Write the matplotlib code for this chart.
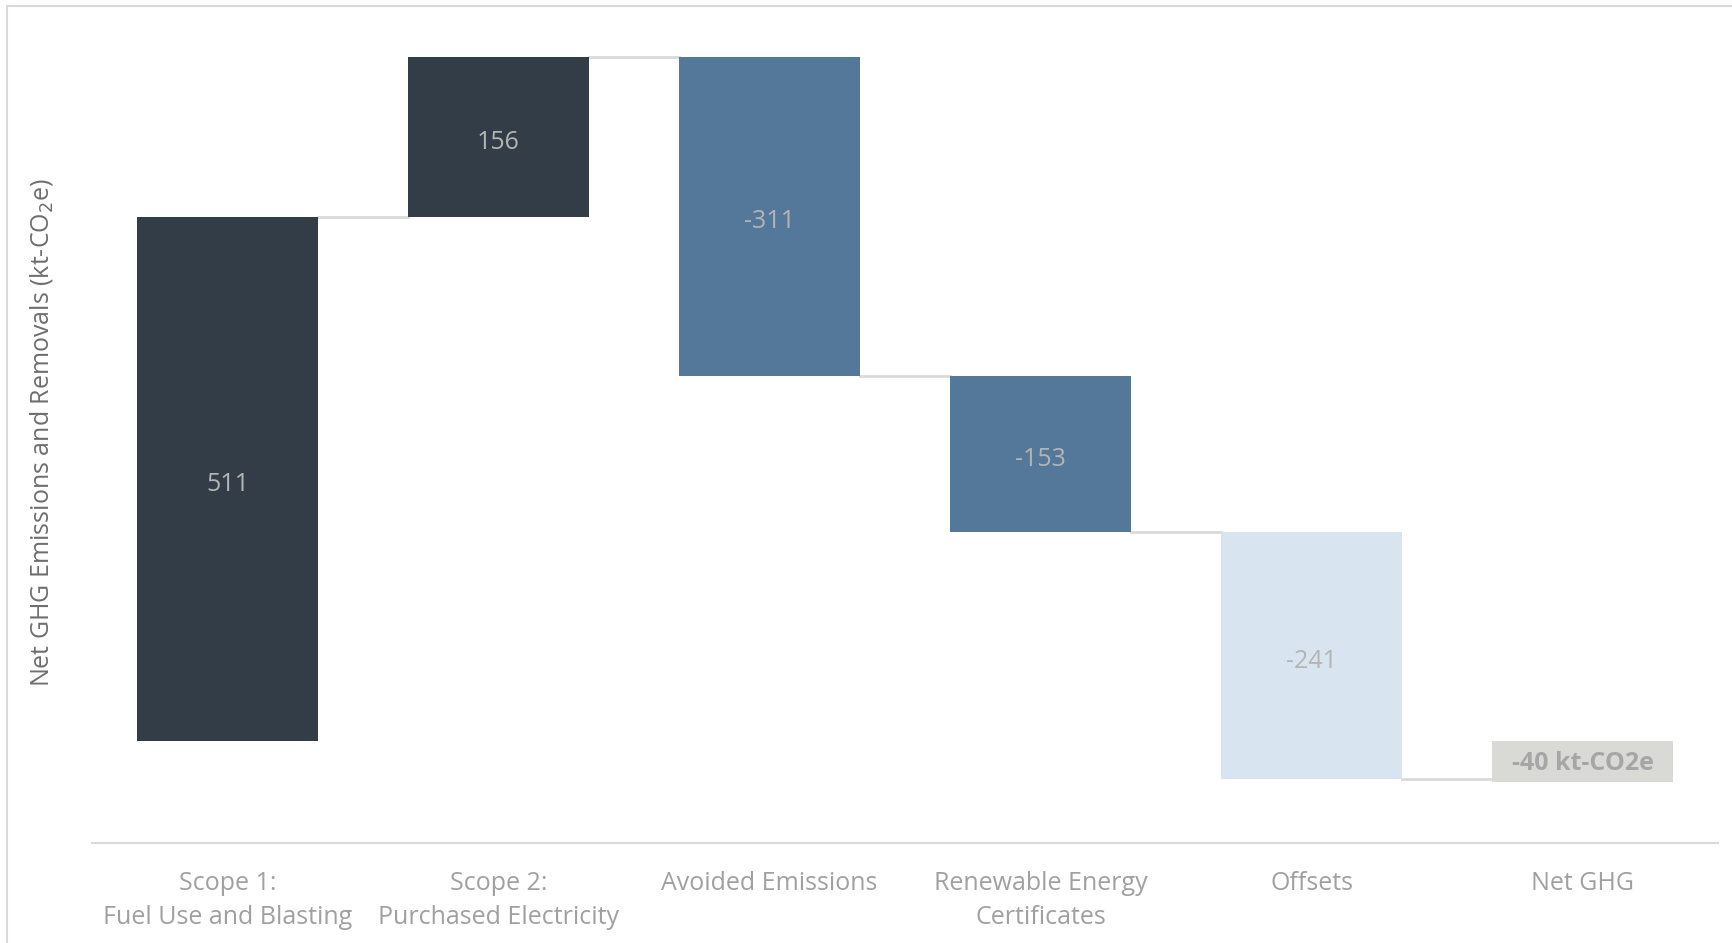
import numpy as np
import matplotlib.pyplot as plt
from matplotlib.patches import Rectangle

plt.rcParams['font.family'] = ['Open Sans', 'DejaVu Sans']

categories = ["Scope 1:\nFuel Use and Blasting", "Scope 2:\nPurchased Electricity",
              "Avoided Emissions", "Renewable Energy\nCertificates", "Offsets", "Net GHG"]
changes = [511, 156, -311, -153, -241]
net_value = -40
bar_colors = ["#333d48", "#333d48", "#54789a", "#54789a", "#d8e4ef"]

fig = plt.figure(figsize=(17.32, 9.43), dpi=100)
# thin frame on the left and top edges
fig.patches.append(Rectangle((7/1732, -0.5), 2, 1.5 - 6/943, transform=fig.transFigure,
                             fill=False, edgecolor="#d9d9d9", linewidth=1.5))

ax = fig.add_axes([92/1732, 100/943, 1626/1732, 820/943])

x = np.arange(len(categories))
w = 0.668
starts = np.concatenate([[0], np.cumsum(changes)[:-1]])
ends = np.cumsum(changes)

for i, (s, c, col) in enumerate(zip(starts, changes, bar_colors)):
    ax.bar(x[i], c, bottom=s, width=w, color=col, zorder=2)
    ax.annotate(str(c), (x[i], s + c / 2), xytext=(0, -4), textcoords="offset points",
                ha="center", va="center", fontsize=18, color="#b4b4b4", zorder=3)

# net bar
ax.bar(x[-1], net_value, bottom=0, width=w, color="#d9d9d5", zorder=2)
ax.annotate(f"{net_value} kt-CO2e", (x[-1], net_value / 2), xytext=(0, -2),
            textcoords="offset points", ha="center", va="center",
            fontsize=18, fontweight="bold", color="#a6a6a6", zorder=3)

# connectors between bars
for i in range(len(changes)):
    ax.plot([x[i] + w/2, x[i+1] - w/2], [ends[i], ends[i]],
            color="#d9d9d9", linewidth=2, zorder=1)

ax.set_xlim(-0.5, 5.5)
ax.set_ylim(-100, 700)
ax.set_xticks(x)
ax.set_xticklabels(categories, fontsize=18, color="#a0a0a0", linespacing=1.5)
ax.tick_params(axis="x", length=0, pad=20)
ax.set_yticks([])
for sp in ["top", "right", "left"]:
    ax.spines[sp].set_visible(False)
ax.spines["bottom"].set_color("#d9d9d9")
ax.spines["bottom"].set_linewidth(1.5)

fig.text(42/1732, 1 - 433/943, "Net GHG Emissions and Removals (kt-CO$_2$e)",
         rotation=90, ha="center", va="center", fontsize=18, color="#6e6e6e")

fig.savefig("out.png", dpi=100)
